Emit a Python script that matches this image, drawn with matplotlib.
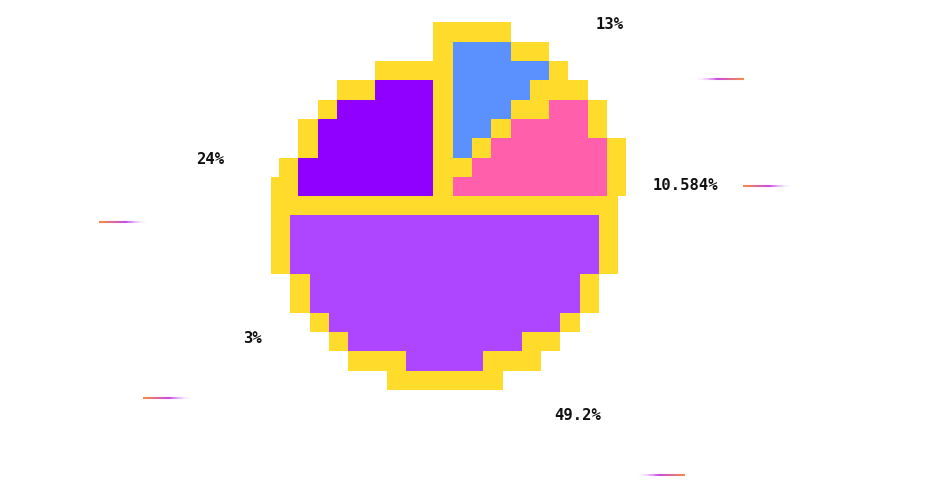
import numpy as np
import matplotlib
matplotlib.use("Agg")
import matplotlib.pyplot as plt
from matplotlib.colors import to_rgba
from matplotlib.collections import LineCollection

# ---------------- data ----------------
labels = ["13%", "10.584%", "49.2%", "3%", "24%"]
values = [13, 10.584, 49.2, 3, 24]
slice_colors = ["#5a91ff", "#ff5fab", "#ae46ff", "#ff9f40", "#8f00ff"]
border_color = "#ffdb2c"

# ---------------- layout / style ----------------
W, H = 949, 490
cx, cy = 444.0, 207.0          # pie centre (pixels)
# per-slice wobble of the hand-made pixel pie: apex offset, radius, vertical stretch
slice_offset = [(0.0, -23.0), (-29.0, 7.0), (0.0, -12.0), (0.0, -12.0), (-10.0, 3.0)]
slice_radius = [157.0, 205.0, 174.0, 165.0, 144.5]
slice_stretch = [1.0, 1.0, 1.05, 1.0, 1.0]
half_border = [7.5, 9.5, 9.5, 10.0, 8.5]
draw_order = [0, 2, 3, 1, 4]
cell = 19.3                    # pixel-art cell size
# grid phase of the pixelation for each slice
phases = [(279.0, 23.5), (279.0, 23.5), (271.0, 197.0), (271.0, 197.0), (279.0, 23.5)]
# label placement (angle clockwise from top, radius) relative to pie centre
label_polar = [(42.2, 246), (85.0, 242), (147.3, 248), (235.6, 232), (281.4, 239)]
# gradient leader lines: (angle, radius), orange end on the right?
line_polar = [(65.1, 304), (86.3, 324), (141.0, 345), (235.4, 336), (267.4, 321)]
line_orange_right = [True, False, True, False, False]
line_len = 48

fig = plt.figure(figsize=(W / 100, H / 100), dpi=100)
ax = fig.add_axes([0, 0, 1, 1])
ax.set_xlim(0, W)
ax.set_ylim(H, 0)
ax.axis("off")

total = sum(values)
starts = np.concatenate([[0], np.cumsum(values)[:-1]]) / total * 360.0
ends = np.cumsum(values) / total * 360.0

px = np.arange(W) + 0.5
py = np.arange(H) + 0.5
PX, PY = np.meshgrid(px, py)


def classify(X, Y, a0, a1, ccx, ccy, R, sy):
    dx = X - ccx
    dy = (ccy - Y) / sy
    r = np.hypot(dx, dy)
    th = np.degrees(np.arctan2(dx, dy)) % 360
    in_ang = (th >= a0) & (th <= a1)
    inside = in_ang & (r <= R)

    def seg(a):
        ux, uy = np.sin(np.radians(a)), np.cos(np.radians(a))
        t = np.clip(dx * ux + dy * uy, 0, R)
        return np.hypot(dx - t * ux, dy - t * uy)

    d = np.minimum(seg(a0), seg(a1))
    d = np.minimum(d, np.where(in_ang, np.abs(r - R), np.inf))
    return inside, d


img = np.zeros((H, W, 4))
yel = np.array(to_rgba(border_color))
for i in draw_order:
    a0, a1 = starts[i], ends[i]
    ox, oy = phases[i]
    CX = ox + (np.floor((PX - ox) / cell) + 0.5) * cell
    CY = oy + (np.floor((PY - oy) / cell) + 0.5) * cell
    inside, d = classify(CX, CY, a0, a1, cx + slice_offset[i][0],
                         cy + slice_offset[i][1], slice_radius[i], slice_stretch[i])
    hb = half_border[i]
    fill = inside & (d > hb)
    edge = d <= hb
    img[fill] = to_rgba(slice_colors[i])
    img[edge] = yel

ax.imshow(img, extent=(0, W, H, 0), interpolation="nearest", zorder=1)

# labels
for lab, (ang, rad) in zip(labels, label_polar):
    x = cx + rad * np.sin(np.radians(ang))
    y = cy - rad * np.cos(np.radians(ang))
    ax.text(x, y, lab, ha="center", va="center", fontsize=11.2,
            family="DejaVu Sans Mono", fontweight="bold", color="#111111", zorder=3)

# gradient leader lines
orange = np.array(to_rgba("#f58a45"))
purple = np.array(to_rgba("#c84be6"))
lilac = np.array([0.93, 0.80, 1.0, 0.0])
n = 40
for (ang, rad), oright in zip(line_polar, line_orange_right):
    xc = cx + rad * np.sin(np.radians(ang))
    yc = cy - rad * np.cos(np.radians(ang))
    xs = np.linspace(xc - line_len / 2, xc + line_len / 2, n + 1)
    segs = [[(xs[k], yc), (xs[k + 1], yc)] for k in range(n)]
    t = np.linspace(0, 1, n)
    cols = []
    for tt in t:
        if tt < 0.55:
            c = orange + (purple - orange) * (tt / 0.55)
        else:
            c = purple + (lilac - purple) * ((tt - 0.55) / 0.45)
        cols.append(c)
    cols = np.array(cols)
    if oright:
        cols = cols[::-1]
    ax.add_collection(LineCollection(segs, colors=cols, linewidths=1.5, zorder=2))

fig.savefig("out.png", dpi=100)
